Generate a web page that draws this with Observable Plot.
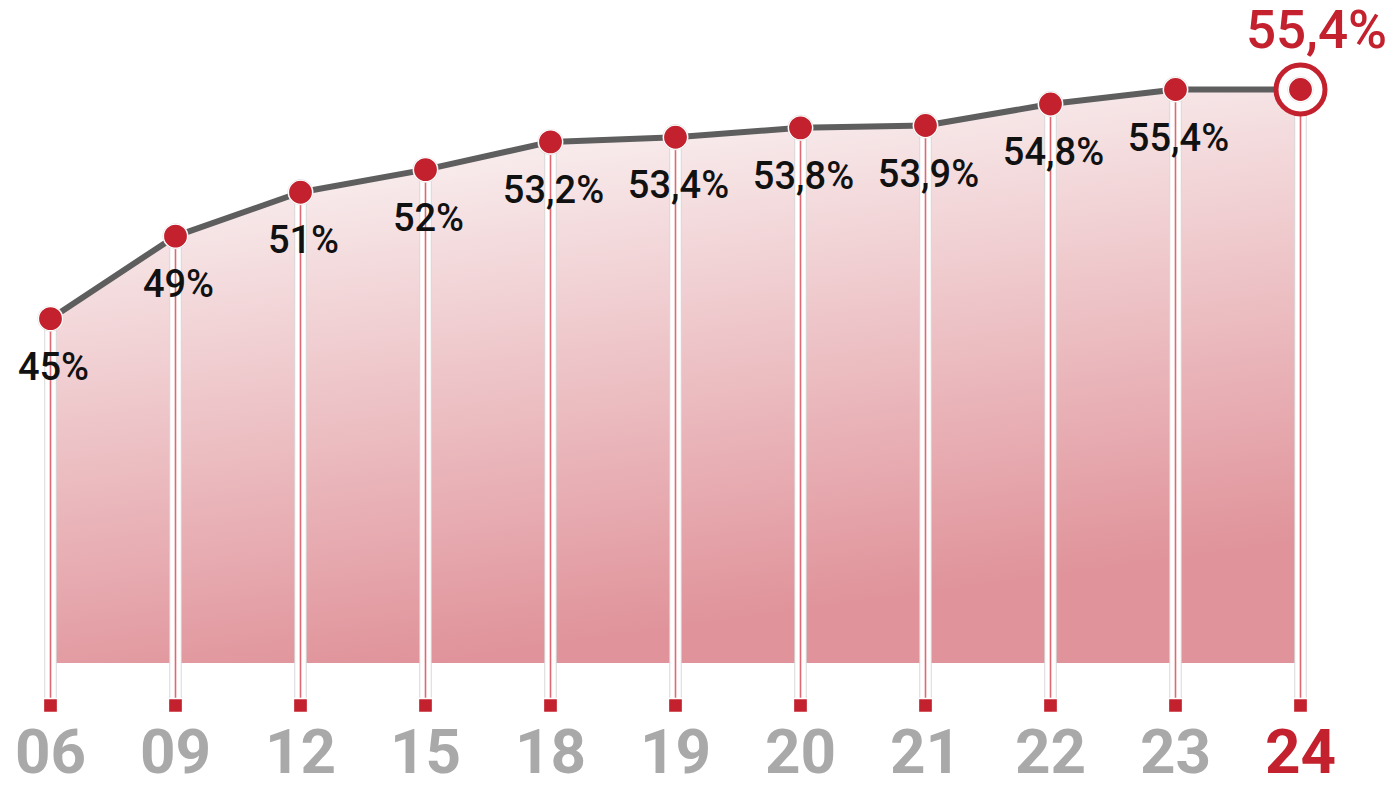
<!DOCTYPE html>
<html>
<head>
<meta charset="utf-8">
<script src="https://cdn.jsdelivr.net/npm/d3@7"></script>
<script src="https://cdn.jsdelivr.net/npm/@observablehq/plot@0.6"></script>
<style>
  html, body { margin: 0; padding: 0; background: #ffffff; }
  #chart svg { display: block; }
</style>
</head>
<body>
<div id="chart"></div>
<script>
const years = ["06","09","12","15","18","19","20","21","22","23","24"];
const values = [45, 49, 51, 52, 53.2, 53.4, 53.8, 53.9, 54.8, 55.4, 55.4];
const labels = ["45%","49%","51%","52%","53,2%","53,4%","53,8%","53,9%","54,8%","55,4%","55,4%"];
const yDomain = [21.3, 55.4];

const red = "#c4212e";
const data = years.map((year, i) => ({year, value: values[i], label: labels[i], last: i === years.length - 1}));
const base = yDomain[0];
const lastPoint = data.filter(d => d.last);
const others = data.filter(d => !d.last);

const gradient = () => {
  const defs = d3.create("svg:defs");
  const g = defs.append("linearGradient").attr("id", "areaGrad")
    .attr("x1", "0").attr("y1", "0").attr("x2", "0.3").attr("y2", "1");
  g.append("stop").attr("offset", "0%").attr("stop-color", "#ffffff");
  g.append("stop").attr("offset", "20%").attr("stop-color", "#f8ebec");
  g.append("stop").attr("offset", "100%").attr("stop-color", "#e0939a");
  return defs.node();
};

const chart = Plot.plot({
  width: 1394,
  height: 790,
  marginLeft: 47,
  marginRight: 92,
  marginTop: 89,
  marginBottom: 127,
  style: {fontFamily: "Roboto, 'Liberation Sans', sans-serif", background: "#ffffff", overflow: "visible"},
  x: {type: "point", domain: years, padding: 0, axis: null},
  y: {type: "pow", exponent: 2, domain: yDomain, axis: null},
  marks: [
    gradient,
    Plot.areaY(data, {x: "year", y1: base, y2: "value", fill: "url(#areaGrad)"}),
    Plot.ruleX(data, {x: "year", y1: "value", y2: base, insetBottom: -36, stroke: "#d9d9d9", strokeWidth: 12.5}),
    Plot.ruleX(data, {x: "year", y1: "value", y2: base, insetBottom: -36, stroke: "#ffffff", strokeWidth: 10.5}),
    Plot.ruleX(data, {x: "year", y1: "value", y2: base, insetBottom: -36, stroke: "#e06872", strokeWidth: 1.6}),
    Plot.dot(data, {x: "year", y: base, dy: 42, symbol: "square", r: 8, fill: red, stroke: "#ffffff", strokeWidth: 1.5}),
    Plot.text(others, {x: "year", y: "value", text: "label", dx: 3, dy: 49, fontSize: 38, fontWeight: 500, fill: "#111111"}),
    Plot.line(data, {x: "year", y: "value", stroke: "#5e5e5e", strokeWidth: 6}),
    Plot.dot(lastPoint, {x: "year", y: "value", r: 24.5, fill: "#ffffff", stroke: red, strokeWidth: 5}),
    Plot.dot(data, {x: "year", y: "value", r: 13, fill: "#dcdcdc"}),
    Plot.dot(data, {x: "year", y: "value", r: 12, fill: red, stroke: "#ffffff", strokeWidth: 1.2}),
    Plot.text(lastPoint, {x: "year", y: "value", text: "label", dx: 16, dy: -58, fontSize: 53, fontWeight: 500, fill: red}),
    Plot.text(data, {x: "year", y: base, text: "year", dy: 90, fontSize: 62, fontWeight: 700, fill: d => d.last ? red : "#a9a9a9"})
  ]
});
document.getElementById("chart").append(chart);
</script>
</body>
</html>
